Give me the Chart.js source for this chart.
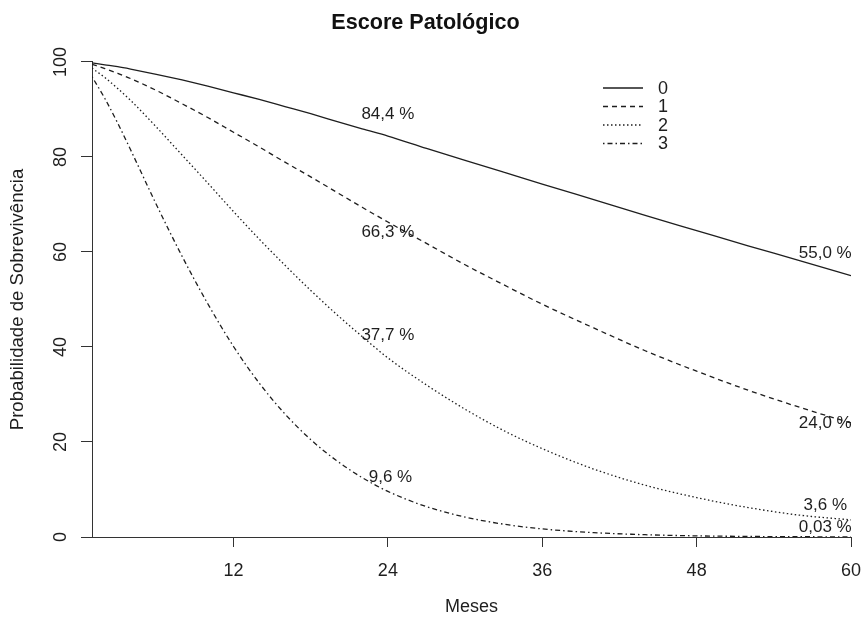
<!DOCTYPE html>
<html>
<head>
<meta charset="utf-8">
<script src="https://cdn.jsdelivr.net/npm/chart.js@4"></script>
<style>
  html, body { margin: 0; padding: 0; background: #fff; }
  #wrap { width: 862px; height: 620px; }
</style>
</head>
<body>
<div id="wrap"><canvas id="chart" width="862" height="620"></canvas></div>
<script>
// meses (eixo x) e probabilidade de sobrevivencia (%)
const meses = [1, 2, 3, 4, 6, 8, 10, 12, 14, 16, 18, 20, 22, 24, 27, 30, 33, 36, 40, 44, 48, 52, 56, 60];
const escore0 = [99.8, 99.4, 99.0, 98.5, 97.4, 96.2, 94.9, 93.5, 92.1, 90.6, 89.1, 87.5, 85.9, 84.4, 81.8, 79.3, 76.8, 74.3, 71.0, 67.7, 64.5, 61.3, 58.2, 55.0];
const escore1 = [99.5, 98.6, 97.6, 96.5, 94.0, 91.2, 88.3, 85.2, 82.1, 78.9, 75.8, 72.6, 69.4, 66.3, 61.8, 57.3, 53.1, 49.0, 44.0, 39.2, 34.9, 30.9, 27.3, 24.0];
const escore2 = [98.7, 96.7, 94.4, 91.9, 86.3, 80.4, 74.5, 68.5, 62.7, 57.2, 51.9, 46.9, 42.2, 37.7, 32.0, 26.9, 22.4, 18.6, 14.3, 10.9, 8.3, 6.2, 4.6, 3.6];
const escore3 = [96.9, 92.3, 87.1, 81.5, 70.0, 59.1, 49.1, 40.1, 32.4, 25.9, 20.5, 16.1, 12.5, 9.6, 6.4, 4.2, 2.7, 1.7, 0.92, 0.48, 0.24, 0.12, 0.06, 0.03];

const xTicks = [12, 24, 36, 48, 60];
const grupos = ['0', '1', '2', '3'];

// textos sobre as curvas e onde ficam (em unidades dos eixos)
const rotulos = ['84,4 %', '66,3 %', '37,7 %', '9,6 %', '55,0 %', '24,0 %', '3,6 %', '0,03 %'];
const rotuloX = [24, 24, 24, 24.2, 58, 58, 58, 58];
const rotuloY = [88.9, 64.1, 42.5, 12.6, 59.7, 23.9, 6.7, 2.1];

const fonte = "'Liberation Sans', Arial, Helvetica, sans-serif";
const tinta = '#1e1e1e';
const tracos = [[], [5, 4], [1.5, 2.5], [1.5, 3, 5, 3]];

function serie(valores) {
  return meses.map((m, i) => ({ x: m, y: valores[i] }));
}

const series = [escore0, escore1, escore2, escore3];
const datasets = series.map((v, i) => ({
  label: grupos[i],
  data: serie(v),
  borderColor: tinta,
  borderWidth: 1.3,
  borderDash: tracos[i],
  pointRadius: 0,
  fill: false,
  cubicInterpolationMode: 'monotone'
}));

// rotulos do eixo y girados, como no R, e textos/legenda dentro do grafico
const extras = {
  id: 'extras',
  afterDraw(chart) {
    const ctx = chart.ctx;
    const xs = chart.scales.x;
    const ys = chart.scales.y;
    ctx.save();
    ctx.fillStyle = tinta;

    // y tick labels
    ctx.font = '18px ' + fonte;
    ctx.textAlign = 'center';
    ctx.textBaseline = 'middle';
    ys.ticks.forEach((t) => {
      const py = ys.getPixelForValue(t.value);
      ctx.save();
      ctx.translate(61, py);
      ctx.rotate(-Math.PI / 2);
      ctx.fillText(String(t.value), 0, 0);
      ctx.restore();
    });

    // percentuais
    ctx.font = '17px ' + fonte;
    rotulos.forEach((txt, i) => {
      ctx.fillText(txt, xs.getPixelForValue(rotuloX[i]), ys.getPixelForValue(rotuloY[i]));
    });

    // legenda
    const lx = 603, ly = 88, passo = 18.5;
    ctx.strokeStyle = tinta;
    ctx.lineWidth = 1.3;
    ctx.font = '18px ' + fonte;
    ctx.textAlign = 'left';
    grupos.forEach((g, i) => {
      const y = ly + i * passo;
      ctx.setLineDash(tracos[i]);
      ctx.beginPath();
      ctx.moveTo(lx, y);
      ctx.lineTo(lx + 40, y);
      ctx.stroke();
      ctx.setLineDash([]);
      ctx.fillText(g, lx + 55, y + 1);
    });
    ctx.restore();
  }
};

const ctx = document.getElementById('chart').getContext('2d');
const chart = new Chart(ctx, {
  type: 'line',
  data: { datasets: datasets },
  options: {
    responsive: false,
    animation: false,
    devicePixelRatio: 1,
    layout: { padding: { left: 0, right: 11, top: 0, bottom: 0 } },
    plugins: {
      legend: { display: false },
      tooltip: { enabled: false },
      title: {
        display: true,
        text: 'Escore Patológico',
        color: '#111',
        font: { family: fonte, size: 21.6, weight: 'bold' },
        padding: { top: 10, bottom: 26 }
      }
    },
    scales: {
      x: {
        type: 'linear',
        min: 1,
        max: 60,
        afterBuildTicks: (s) => { s.ticks = xTicks.map((v) => ({ value: v })); },
        afterFit: (s) => { s.height = 83; s.paddingLeft = 0; s.paddingRight = 0; },
        grid: { drawOnChartArea: false, drawTicks: true, tickLength: 10, color: '#333' },
        border: { display: true, color: '#333', width: 1 },
        ticks: {
          color: tinta,
          font: { family: fonte, size: 18 },
          padding: 13,
          maxRotation: 0,
          autoSkip: false
        },
        title: {
          display: true,
          text: 'Meses',
          color: tinta,
          font: { family: fonte, size: 18 },
          padding: { top: 0, bottom: 2 }
        }
      },
      y: {
        min: 0,
        max: 100,
        afterFit: (s) => { s.width = 92; s.paddingTop = 0; s.paddingBottom = 0; },
        grid: { drawOnChartArea: false, drawTicks: true, tickLength: 11, color: '#333' },
        border: { display: true, color: '#333', width: 1 },
        ticks: { stepSize: 20, display: false },
        title: {
          display: true,
          text: 'Probabilidade de Sobrevivência',
          color: tinta,
          font: { family: fonte, size: 18.6 },
          padding: { top: 7, bottom: 0 }
        }
      }
    }
  },
  plugins: [extras]
});
</script>
</body>
</html>
